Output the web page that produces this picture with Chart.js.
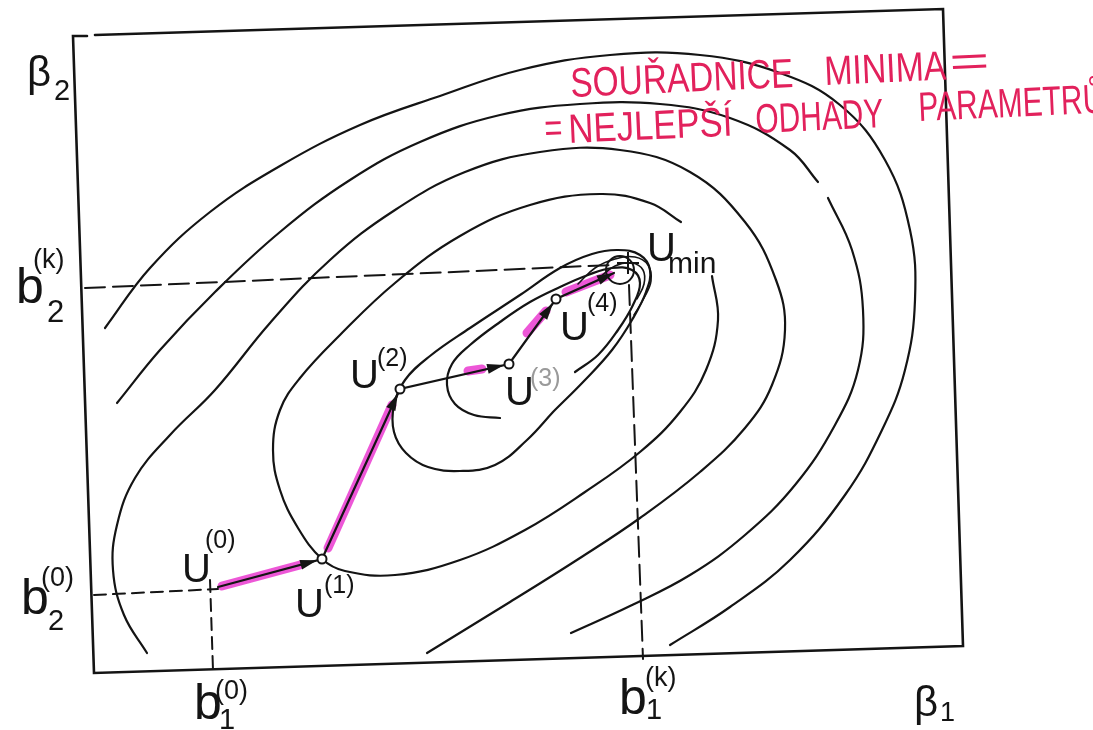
<!DOCTYPE html>
<html>
<head>
<meta charset="utf-8">
<script src="https://cdn.jsdelivr.net/npm/chart.js@4.4.0/dist/chart.umd.min.js"></script>
<style>
  html, body { margin: 0; padding: 0; background: #fff; }
  #obal { width: 1093px; height: 730px; }
</style>
</head>
<body>
<div id="obal"><canvas id="graf" width="1093" height="730"></canvas></div>
<script>
// souradnice (beta1 doprava, beta2 v ose obrazku dolu)
var ram = [[95,35],[943,9],[963,646],[94,673],[73,36],[87,36]];

// vrstevnice, od vnejsi k vnitrni
var vrstevniceA = [[105,328],[150,268],[210,212],[280,166],[360,125],[440,96],[520,70],[610,55],[700,55],[780,73],[840,105],[885,160],[910,230],[915,300],[905,370],[882,430],[845,495],[790,560],[730,607],[670,645]];
var vrstevniceB = [[117,403],[160,350],[215,292],[280,232],[350,180],[420,142],[500,115],[580,104],[660,104],[730,118],[790,150],[818,182],null,[828,198],[852,250],[863,310],[858,370],[835,425],[795,485],[745,535],[690,575],[630,606],[571,633]];
var vrstevniceC = [[147,653],[124,615],[113,570],[117,525],[135,478],[170,435],[215,390],[270,323],[330,260],[395,210],[465,172],[540,152],[620,150],[690,172],[745,222],[776,280],[785,330],[772,385],[745,428],[700,472],[640,518],[580,558],[510,602],[427,653]];
var vrstevniceD = [[712,276],[718,320],[706,370],[680,412],[640,452],[585,492],[525,530],[460,560],[395,575],[345,571],[322,559],[298,528],[280,490],[273,450],[280,410],[300,378],[340,335],[395,283],[460,236],[530,205],[600,194],[650,203],[681,222]];
var vrstevniceE = [[553,412],[585,380],[612,350],[632,320],[646,292],[650,270],[640,255],[618,250],[592,254],[560,268],[520,295],[470,328],[430,356],[405,380],[394,405],[394,432],[406,453],[428,467],[460,471],[495,465],[527,440],[553,412]];
var vrstevniceF = [[500,418],[474,415],[455,404],[447,385],[452,364],[470,345],[500,322],[530,302],[560,287],[588,275],[612,268],[632,270],[640,283],[633,305],[618,330],[598,355],[575,372]];
var vrstevniceG = [[578,284],[595,268],[615,259],[635,257],[648,265],[651,281],[644,298],[634,315]];
var vrstevniceH = [[600,277],[615,266],[632,263],[643,270],[644,284],[637,299]];

// pomocne carkovane cary k b1, b2
var vodorovnaK = [[85,288],[612,265]];
var svislaK = [[629,285],[643,659]];
var vodorovna0 = [[94,595],[218,589]];
var svisla0 = [[210,580],[213,670]];

// kroky U(0) .. U(4) a konec posledni sipky u minima
var bodU = [[218,587],[322,559],[400,389],[509,364],[556,299],[614,273]];
var kolecka = [[322,559],[400,389],[509,364],[556,299]];
var uMin = [[620,270]];
var krizMin = [[628,263]];

// ruzove zvyrazneni sipek
var zvyrazneni = [[222,586],[300,565],null,[328,548],[392,405],null,[468,371],[482,369],null,[527,333],[546,311],null,[566,292],[610,275]];

function naBody(pole) {
  return pole.map(function (b) {
    if (b == null) return { x: null, y: null };
    return { x: b[0], y: b[1] };
  });
}

function cara(pole, sirka, barva, dash, napnuti) {
  return {
    data: naBody(pole),
    showLine: true,
    borderColor: barva,
    borderWidth: sirka,
    borderDash: dash || [],
    tension: napnuti,
    pointRadius: 0,
    fill: false,
    spanGaps: false,
    borderCapStyle: 'round'
  };
}

var cerna = '#141414';

// texty popisku: [text, x, y (baseline), velikost, barva]
var popisky = [
  ['β', 27, 86, 42, cerna], ['2', 54, 100, 29, cerna],
  ['b', 16, 303, 50, cerna], ['(k)', 33, 268, 27, cerna], ['2', 47, 322, 31, cerna],
  ['b', 21, 614, 50, cerna], ['(0)', 41, 586, 27, cerna], ['2', 48, 630, 29, cerna],
  ['b', 194, 719, 50, cerna], ['(0)', 215, 699, 27, cerna], ['1', 219, 729, 29, cerna],
  ['b', 619, 714, 50, cerna], ['(k)', 645, 686, 27, cerna], ['1', 646, 719, 29, cerna],
  ['β', 914, 716, 42, cerna], ['1', 940, 721, 27, cerna],
  ['U', 182, 582, 40, cerna], ['(0)', 205, 548, 25, cerna],
  ['U', 295, 617, 40, cerna], ['(1)', 324, 593, 25, cerna],
  ['U', 350, 388, 40, cerna], ['(2)', 377, 366, 25, cerna],
  ['U', 505, 405, 40, cerna], ['(3)', 530, 386, 25, '#9a9a9a'],
  ['U', 560, 340, 40, cerna], ['(4)', 587, 311, 25, cerna],
  ['U', 647, 261, 40, cerna], ['min', 668, 273, 30, cerna]
];

// rucne psany text: [text, x, y, sirka]
var poznamka = [
  ['SOUŘADNICE', 571, 97, 223],
  ['MINIMA', 825, 85, 122],
  ['=', 950, 76, 40],
  ['=', 545, 142, 18],
  ['NEJLEPŠÍ', 569, 143, 164],
  ['ODHADY', 756, 133, 128],
  ['PARAMETRŮ', 919, 121, 186]
];

const popiskyPlugin = {
  id: 'popisky',
  afterDatasetsDraw(chart) {
    const ctx = chart.ctx;
    const sx = chart.scales.x, sy = chart.scales.y;

    // hroty sipek
    ctx.save();
    ctx.fillStyle = cerna;
    for (let i = 1; i < bodU.length; i++) {
      const ax = sx.getPixelForValue(bodU[i - 1][0]), ay = sy.getPixelForValue(bodU[i - 1][1]);
      const bx = sx.getPixelForValue(bodU[i][0]), by = sy.getPixelForValue(bodU[i][1]);
      const r = i < bodU.length - 1 ? 5 : 0;
      const d = Math.hypot(bx - ax, by - ay);
      const ux = (bx - ax) / d, uy = (by - ay) / d;
      const tx = bx - ux * r, ty = by - uy * r;
      ctx.beginPath();
      ctx.moveTo(tx, ty);
      ctx.lineTo(tx - ux * 17 - uy * 5, ty - uy * 17 + ux * 5);
      ctx.lineTo(tx - ux * 17 + uy * 5, ty - uy * 17 - ux * 5);
      ctx.closePath();
      ctx.fill();
    }
    ctx.restore();

    // popisky os a bodu
    ctx.save();
    ctx.textBaseline = 'alphabetic';
    ctx.textAlign = 'left';
    popisky.forEach(function (p) {
      ctx.font = p[3] + 'px "Liberation Sans", Arial, sans-serif';
      ctx.fillStyle = p[4];
      ctx.fillText(p[0], sx.getPixelForValue(p[1]), sy.getPixelForValue(p[2]));
    });
    ctx.restore();

    // cervena poznamka
    ctx.save();
    ctx.fillStyle = '#e2215c';
    ctx.font = '38px "Liberation Sans", Arial, sans-serif';
    poznamka.forEach(function (p) {
      const w = ctx.measureText(p[0]).width;
      ctx.save();
      ctx.translate(sx.getPixelForValue(p[1]), sy.getPixelForValue(p[2]));
      ctx.rotate(-2.6 * Math.PI / 180);
      ctx.scale(p[3] / w, 1.08);
      ctx.fillText(p[0], 0, 0);
      ctx.restore();
    });
    ctx.restore();
  }
};

var datasets = [
  {
    data: naBody(kolecka), showLine: false, pointRadius: 4.5, pointBorderWidth: 2,
    pointBackgroundColor: '#fff', pointBorderColor: cerna
  },
  {
    data: naBody(uMin), showLine: false, pointRadius: 14, pointBorderWidth: 2,
    pointBackgroundColor: 'rgba(0,0,0,0)', pointBorderColor: cerna
  },
  {
    data: naBody(krizMin), showLine: false, pointStyle: 'cross', pointRadius: 11,
    pointBorderWidth: 2, pointBorderColor: cerna
  },
  cara(bodU, 2.2, cerna, [], 0),
  cara(vodorovnaK, 2, cerna, [20, 8], 0),
  cara(svislaK, 2, cerna, [20, 8], 0),
  cara(vodorovna0, 2, cerna, [12, 7], 0),
  cara(svisla0, 2, cerna, [12, 7], 0),
  cara(vrstevniceH, 1.6, cerna, [], 0.4),
  cara(vrstevniceG, 1.6, cerna, [], 0.4),
  cara(vrstevniceF, 2.2, cerna, [], 0.4),
  cara(vrstevniceE, 2.2, cerna, [], 0.4),
  cara(vrstevniceD, 2.2, cerna, [], 0.4),
  cara(vrstevniceC, 2.2, cerna, [], 0.4),
  cara(vrstevniceB, 2.2, cerna, [], 0.4),
  cara(vrstevniceA, 2.2, cerna, [], 0.4),
  cara(ram, 2.6, cerna, [], 0),
  cara(zvyrazneni, 9, 'rgba(232,45,205,0.8)', [], 0)
];

let graf = new Chart(document.getElementById('graf'), {
  type: 'scatter',
  data: { datasets: datasets },
  options: {
    responsive: false,
    animation: false,
    devicePixelRatio: 1,
    layout: { padding: 0, autoPadding: false },
    plugins: { legend: { display: false }, tooltip: { enabled: false } },
    scales: {
      x: { type: 'linear', min: 0, max: 1093, display: false },
      y: { type: 'linear', min: 0, max: 730, reverse: true, display: false }
    }
  },
  plugins: [popiskyPlugin]
});
</script>
</body>
</html>
